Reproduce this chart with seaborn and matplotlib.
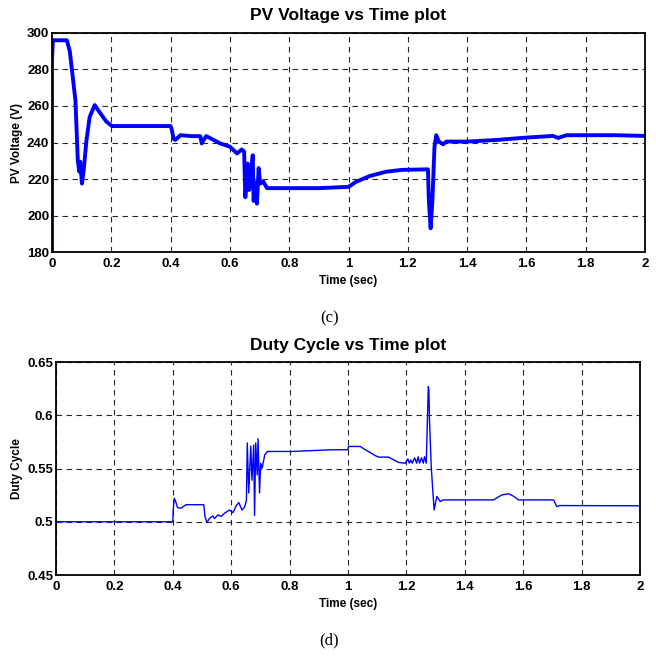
import numpy as np
import pandas as pd
import matplotlib
matplotlib.use('Agg')
import matplotlib.pyplot as plt
import seaborn as sns

# PV voltage trace
pv_time = [0.0, 0.0, 0.003, 0.05, 0.06, 0.067, 0.079, 0.087, 0.092, 0.095,
           0.101, 0.107, 0.116, 0.127, 0.144, 0.163, 0.183, 0.202, 0.25, 0.3,
           0.35, 0.4, 0.404, 0.41, 0.416, 0.433, 0.47, 0.5, 0.505, 0.51,
           0.52, 0.545, 0.567, 0.6, 0.624, 0.64, 0.648, 0.652, 0.66, 0.665,
           0.669, 0.677, 0.68, 0.685, 0.691, 0.697, 0.702, 0.713, 0.725, 0.8,
           0.9, 1.0, 1.026, 1.071, 1.127, 1.18, 1.268, 1.271, 1.277, 1.283,
           1.29, 1.296, 1.305, 1.319, 1.33, 1.4, 1.5, 1.6, 1.69, 1.707,
           1.735, 1.8, 1.9, 2.0]
pv_volt = [180, 285, 296, 296, 290, 280, 263, 230, 224, 229.5,
           217.5, 225, 241, 254, 260.5, 256, 251.5, 249, 249, 249,
           249, 249, 247, 242, 241.4, 244, 243.5, 243.5, 239.5, 241,
           243.5, 241.4, 239.5, 237.7, 234, 236.2, 235, 210, 228.5, 214,
           219, 233, 208, 218, 206.5, 226, 217.5, 218.5, 215, 215,
           215, 215.7, 218.5, 221.6, 224, 225, 225.3, 208.4, 193, 208,
           237.7, 244, 240.5, 239, 240.5, 240.5, 241.4, 242.7, 243.6, 242.5,
           244, 244, 244, 243.6]

# Duty cycle trace
duty_time = [0.0, 0.4, 0.401, 0.405, 0.41, 0.416, 0.428, 0.445, 0.506, 0.51,
             0.517, 0.525, 0.537, 0.543, 0.554, 0.566, 0.577, 0.594, 0.606, 0.617,
             0.626, 0.637, 0.646, 0.652, 0.655, 0.66, 0.667, 0.671, 0.677, 0.68,
             0.684, 0.689, 0.692, 0.697, 0.701, 0.706, 0.715, 0.724, 0.807, 0.945,
             1.0, 1.002, 1.042, 1.059, 1.076, 1.094, 1.105, 1.139, 1.156, 1.173,
             1.196, 1.205, 1.21, 1.215, 1.22, 1.228, 1.235, 1.24, 1.245, 1.252,
             1.258, 1.262, 1.268, 1.272, 1.275, 1.277, 1.279, 1.285, 1.291, 1.295,
             1.304, 1.316, 1.327, 1.498, 1.527, 1.55, 1.567, 1.584, 1.704, 1.715,
             1.726, 2.0]
duty_val = [0.5, 0.5, 0.51, 0.522, 0.519, 0.5133, 0.5127, 0.516, 0.516, 0.505,
            0.4992, 0.503, 0.5055, 0.503, 0.5064, 0.505, 0.508, 0.511, 0.5086, 0.515,
            0.518, 0.511, 0.514, 0.52, 0.574, 0.527, 0.571, 0.539, 0.572, 0.506,
            0.574, 0.544, 0.578, 0.527, 0.555, 0.5503, 0.563, 0.566, 0.566, 0.5676,
            0.5676, 0.5707, 0.5707, 0.5676, 0.565, 0.562, 0.5607, 0.5607, 0.5582, 0.5557,
            0.555, 0.559, 0.555, 0.558, 0.555, 0.56, 0.555, 0.561, 0.555, 0.56,
            0.555, 0.561, 0.555, 0.5958, 0.627, 0.624, 0.596, 0.5519, 0.5268, 0.5111,
            0.5237, 0.519, 0.5205, 0.5205, 0.5252, 0.5262, 0.524, 0.5205, 0.5205, 0.5143,
            0.5152, 0.515]

pv_df = pd.DataFrame({'time': pv_time, 'volt': pv_volt})
duty_df = pd.DataFrame({'time': duty_time, 'duty': duty_val})

x_ticks = [0, 0.2, 0.4, 0.6, 0.8, 1, 1.2, 1.4, 1.6, 1.8, 2]
x_labels = ['0', '0.2', '0.4', '0.6', '0.8', '1', '1.2', '1.4', '1.6', '1.8', '2']
pv_ticks = [180, 200, 220, 240, 260, 280, 300]
duty_ticks = [0.45, 0.5, 0.55, 0.6, 0.65]
duty_labels = ['0.45', '0.5', '0.55', '0.6', '0.65']

sns.set_style('white')
plt.rcParams['font.family'] = ['Liberation Sans', 'DejaVu Sans']
plt.rcParams['font.weight'] = 'bold'
plt.rcParams['text.color'] = 'black'
plt.rcParams['axes.labelcolor'] = 'black'
plt.rcParams['xtick.color'] = 'black'
plt.rcParams['ytick.color'] = 'black'

fig = plt.figure(figsize=(6.56, 6.57), dpi=100)
ax1 = fig.add_axes([0.0793, 0.6164, 0.9039, 0.3334])
ax2 = fig.add_axes([0.0854, 0.1248, 0.8902, 0.3242])

sns.lineplot(data=pv_df, x='time', y='volt', ax=ax1, color='#0000ff',
             linewidth=2.8, sort=False, estimator=None)
sns.lineplot(data=duty_df, x='time', y='duty', ax=ax2, color='#0000ff',
             linewidth=1.0, sort=False, estimator=None)


def style_axes(ax, yticks, ylabels, ylabel, title):
    ax.set_xlim(0, 2)
    ax.set_ylim(yticks[0], yticks[-1])
    ax.set_xticks(x_ticks)
    ax.set_xticklabels(x_labels, fontsize=9.5, fontweight='bold')
    ax.set_yticks(yticks)
    ax.set_yticklabels(ylabels, fontsize=9.5, fontweight='bold')
    ax.tick_params(axis='x', direction='in', length=3, pad=4, colors='black')
    ax.tick_params(axis='y', direction='in', length=3, pad=2, colors='black')
    ax.grid(True, color='black', linestyle=(0, (5, 4)), linewidth=0.8, alpha=0.85)
    for sp in ax.spines.values():
        sp.set_visible(True)
        sp.set_color('black')
        sp.set_linewidth(1.3)
    ax.set_xlabel('Time (sec)', fontsize=8.5, fontweight='bold', labelpad=4)
    ax.set_ylabel(ylabel, fontsize=8.5, fontweight='bold', labelpad=3)
    ax.set_title(title, fontsize=12.5, fontweight='bold', pad=9)


style_axes(ax1, pv_ticks, [str(v) for v in pv_ticks], 'PV Voltage (V)',
           'PV Voltage vs Time plot')
style_axes(ax2, duty_ticks, duty_labels, 'Duty Cycle', 'Duty Cycle vs Time plot')

fig.text(0.503, 1 - 318 / 657, '(c)', fontsize=12, family='Liberation Serif',
         fontweight='normal', ha='center', va='center')
fig.text(0.501, 1 - 640 / 657, '(d)', fontsize=12, family='Liberation Serif',
         fontweight='normal', ha='center', va='center')

fig.savefig('out.png', dpi=100)
